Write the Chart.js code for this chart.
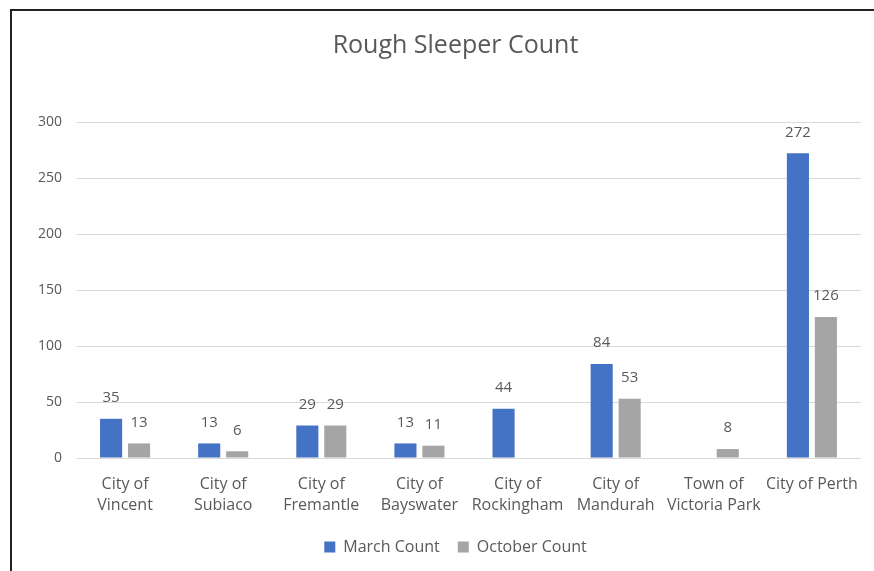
<!DOCTYPE html>
<html>
<head>
    <title>Rough Sleeper Count</title>
    <style>
        body {
            margin: 0;
            background-color: #fff;
        }

        #frame {
            position: absolute;
            left: 10px;
            top: 9px;
            width: 880px;
            height: 580px;
            border: 2px solid #222;
            box-sizing: border-box;
        }

        #chart-container {
            position: absolute;
            left: 0;
            top: 0;
            width: 874px;
            height: 571px;
        }
    </style>
</head>
<body>
    <div id="frame"></div>
    <div id="chart-container">
        <canvas id="chart"></canvas>
    </div>

    <script src="https://cdn.jsdelivr.net/npm/chart.js"></script>
    <script>
        const categories = [
            ['City of', 'Vincent'],
            ['City of', 'Subiaco'],
            ['City of', 'Fremantle'],
            ['City of', 'Bayswater'],
            ['City of', 'Rockingham'],
            ['City of', 'Mandurah'],
            ['Town of', 'Victoria Park'],
            'City of Perth'
        ];
        const marchCounts = [35, 13, 29, 13, 44, 84, null, 272];
        const octoberCounts = [13, 6, 29, 11, null, 53, 8, 126];
        const yTicks = [0, 50, 100, 150, 200, 250, 300];

        const textColor = '#595959';
        const fontFamily = '"Open Sans", "Noto Sans", sans-serif';

        // draws the value above each bar
        const valueLabels = {
            id: 'valueLabels',
            afterDatasetsDraw(chart) {
                const ctx = chart.ctx;
                ctx.save();
                ctx.fillStyle = textColor;
                ctx.font = '15px ' + fontFamily;
                ctx.textAlign = 'center';
                ctx.textBaseline = 'middle';
                chart.data.datasets.forEach((ds, i) => {
                    const meta = chart.getDatasetMeta(i);
                    meta.data.forEach((bar, j) => {
                        const v = ds.data[j];
                        if (v === null) return;
                        ctx.fillText(String(v), bar.x, bar.y - 21);
                    });
                });
                ctx.restore();
            }
        };

        // title and legend sit a bit right of the canvas centre in the original;
        // also let the x labels draw past the (shortened) axis box
        const layoutTweaks = {
            id: 'layoutTweaks',
            afterLayout(chart) {
                [chart.titleBlock, chart.legend].forEach(b => {
                    if (!b) return;
                    b.left += 8;
                    b.right += 8;
                });
                chart.scales.x.bottom += 40;
            }
        };

        const ctx = document.getElementById('chart').getContext('2d');
        const chart = new Chart(ctx, {
            type: 'bar',
            data: {
                labels: categories,
                datasets: [{
                    label: 'March Count',
                    data: marchCounts,
                    backgroundColor: '#4472C4'
                }, {
                    label: 'October Count',
                    data: octoberCounts,
                    backgroundColor: '#A5A5A5'
                }]
            },
            options: {
                responsive: true,
                maintainAspectRatio: false,
                animation: false,
                categoryPercentage: 0.57,
                barPercentage: 0.79,
                layout: {
                    padding: { left: 24, right: 3, top: 14, bottom: 6 }
                },
                plugins: {
                    title: {
                        display: true,
                        text: 'Rough Sleeper Count',
                        color: textColor,
                        font: { family: fontFamily, size: 25, weight: 'normal' },
                        padding: { top: 17, bottom: 61 }
                    },
                    legend: {
                        position: 'bottom',
                        labels: {
                            color: textColor,
                            font: { family: fontFamily, size: 16 },
                            boxWidth: 11,
                            boxHeight: 11,
                            padding: 18
                        }
                    },
                    tooltip: { enabled: false }
                },
                scales: {
                    x: {
                        grid: { display: false, drawTicks: false },
                        border: { color: '#d9d9d9' },
                        ticks: {
                            color: textColor,
                            font: { family: fontFamily, size: 16, lineHeight: 1.3 },
                            maxRotation: 0,
                            autoSkip: false,
                            padding: 16
                        },
                        afterFit(scale) {
                            scale.height = 63;
                        }
                    },
                    y: {
                        min: yTicks[0],
                        max: yTicks[yTicks.length - 1],
                        afterBuildTicks(axis) {
                            axis.ticks = yTicks.map(v => ({ value: v }));
                        },
                        border: { display: false },
                        grid: { color: '#d9d9d9', drawTicks: false },
                        ticks: {
                            color: textColor,
                            font: { family: fontFamily, size: 14 },
                            padding: 14
                        }
                    }
                }
            },
            plugins: [valueLabels, layoutTweaks]
        });
    </script>
</body>
</html>
